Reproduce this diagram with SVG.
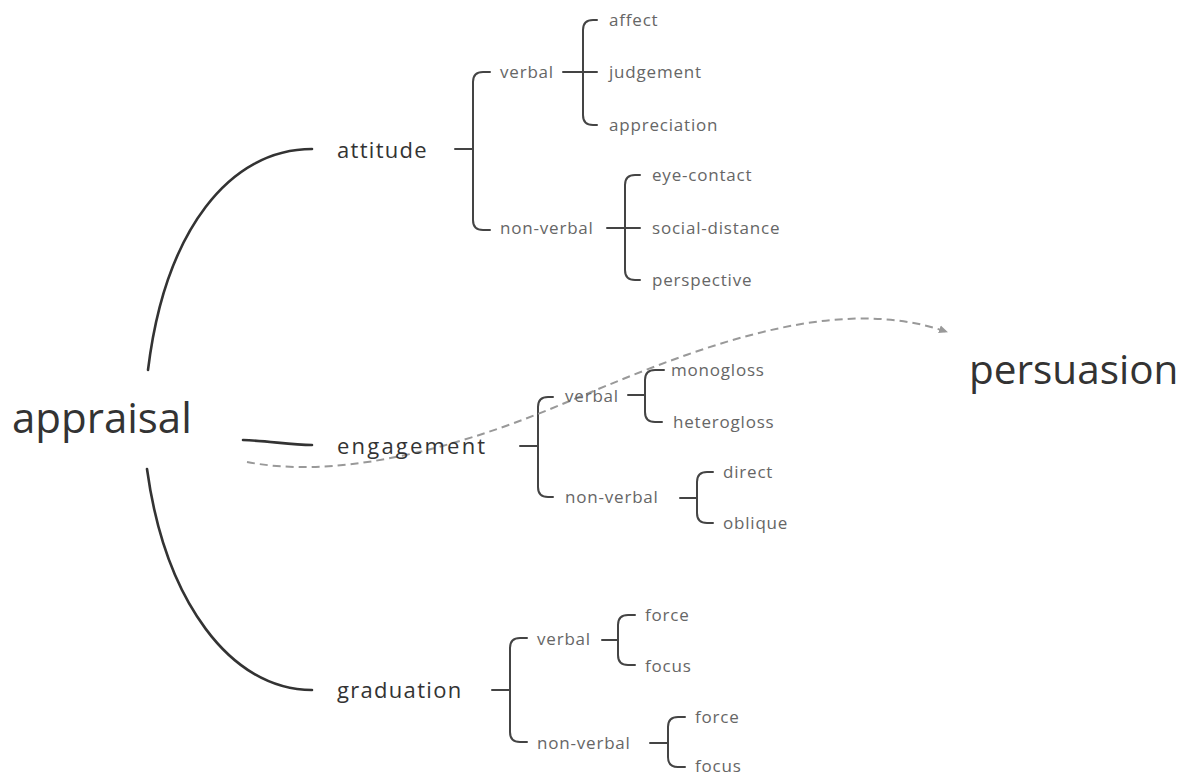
<svg xmlns="http://www.w3.org/2000/svg" width="1184" height="776" viewBox="0 0 1184 776">
<defs>
<style>
.big{font-family:"Open Sans","Liberation Sans",sans-serif;font-size:40px;fill:#333;}
.main{font-family:"Open Sans","Liberation Sans",sans-serif;font-size:22px;letter-spacing:1.3px;fill:#333;}
.sub{font-family:"Open Sans","Liberation Sans",sans-serif;font-size:17px;letter-spacing:0.8px;fill:#666;}
.trunk{fill:none;stroke:#333;stroke-width:2.6;stroke-linecap:round;}
.br{fill:none;stroke:#444;stroke-width:2;stroke-linecap:round;stroke-linejoin:round;}
.dash{fill:none;stroke:#999;stroke-width:2;stroke-dasharray:8 5;}
</style>
<marker id="arr" markerWidth="10" markerHeight="10" refX="8" refY="5" orient="auto" markerUnits="userSpaceOnUse">
<path d="M0,1 L9,5 L0,9 Z" fill="#999"/>
</marker>
</defs>
<rect width="1184" height="776" fill="#fff"/>

<g id="connectors">
<path class="trunk" d="M148,370 C165,230 230,149 312,149"/>
<path class="trunk" d="M243,440 C270,441 290,445 312,445"/>
<path class="trunk" d="M147,469 C165,600 230,690 312,690"/>
<!-- attitude -->
<path class="br" d="M455,149 L473,149"/>
<path class="br" d="M490,72 L483,72 Q473,72 473,82 L473,220 Q473,230 483,230 L490,230"/>
<path class="br" d="M563,72 L597,72"/>
<path class="br" d="M597,20 L593,20 Q583,20 583,30 L583,115 Q583,125 593,125 L597,125"/>
<path class="br" d="M607,228 L640,228"/>
<path class="br" d="M640,175 L635,175 Q625,175 625,185 L625,270 Q625,280 635,280 L640,280"/>
<!-- engagement -->
<path class="br" d="M520,446 L538,446"/>
<path class="br" d="M553,397 L548,397 Q538,397 538,407 L538,487 Q538,497 548,497 L553,497"/>
<path class="br" d="M628,395 L645,395"/>
<path class="br" d="M664,370 L655,370 Q645,370 645,380 L645,412 Q645,422 655,422 L662,422"/>
<path class="br" d="M680,498 L697,498"/>
<path class="br" d="M713,472 L707,472 Q697,472 697,482 L697,513 Q697,523 707,523 L713,523"/>
<!-- graduation -->
<path class="br" d="M492,690 L510,690"/>
<path class="br" d="M527,638 L520,638 Q510,638 510,648 L510,732 Q510,742 520,742 L527,742"/>
<path class="br" d="M602,640 L618,640"/>
<path class="br" d="M635,615 L628,615 Q618,615 618,625 L618,655 Q618,665 628,665 L635,665"/>
<path class="br" d="M650,743 L668,743"/>
<path class="br" d="M685,717 L678,717 Q668,717 668,727 L668,757 Q668,767 678,767 L685,767"/>
<!-- persuasion link -->
<path class="dash" d="M247,462 C330,478 440,455 560,405 S830,290 947,332" marker-end="url(#arr)"/>
</g>

<g id="appraisal"><text class="big" x="12" y="433" style="font-size:42px">appraisal</text></g>
<g id="persuasion"><text class="big" x="969" y="384" style="font-size:40.5px">persuasion</text></g>

<g id="attitude"><text class="main" x="337" y="158">attitude</text></g>
<g id="attitude-verbal"><text class="sub" x="500" y="78">verbal</text></g>
<g id="affect"><text class="sub" x="609" y="26">affect</text></g>
<g id="judgement"><text class="sub" x="609" y="78">judgement</text></g>
<g id="appreciation"><text class="sub" x="609" y="131">appreciation</text></g>
<g id="attitude-nonverbal"><text class="sub" x="500" y="234">non-verbal</text></g>
<g id="eye-contact"><text class="sub" x="652" y="181">eye-contact</text></g>
<g id="social-distance"><text class="sub" x="652" y="234">social-distance</text></g>
<g id="perspective"><text class="sub" x="652" y="286">perspective</text></g>

<g id="engagement"><text class="main" x="337" y="454" style="letter-spacing:2.2px">engagement</text></g>
<g id="engagement-verbal"><text class="sub" x="565" y="402">verbal</text></g>
<g id="monogloss"><text class="sub" x="671" y="376">monogloss</text></g>
<g id="heterogloss"><text class="sub" x="673" y="428">heterogloss</text></g>
<g id="engagement-nonverbal"><text class="sub" x="565" y="503">non-verbal</text></g>
<g id="direct"><text class="sub" x="723" y="478">direct</text></g>
<g id="oblique"><text class="sub" x="723" y="529">oblique</text></g>

<g id="graduation"><text class="main" x="337" y="698">graduation</text></g>
<g id="graduation-verbal"><text class="sub" x="537" y="645">verbal</text></g>
<g id="force1"><text class="sub" x="645" y="621">force</text></g>
<g id="focus1"><text class="sub" x="645" y="672">focus</text></g>
<g id="graduation-nonverbal"><text class="sub" x="537" y="749">non-verbal</text></g>
<g id="force2"><text class="sub" x="695" y="723">force</text></g>
<g id="focus2"><text class="sub" x="695" y="772">focus</text></g>
</svg>
